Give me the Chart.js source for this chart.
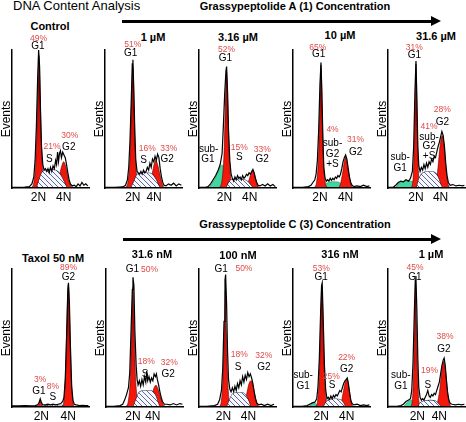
<!DOCTYPE html>
<html>
<head>
<meta charset="utf-8">
<title>DNA Content Analysis</title>
<script src="https://cdn.jsdelivr.net/npm/chart.js@4.4.1/dist/chart.umd.min.js"></script>
<style>
  body { margin: 0; background: #fff; }
  #fig { position: relative; width: 466px; height: 422px; overflow: hidden; font-family: "Liberation Sans", Arial, sans-serif; }
  #fig canvas { position: absolute; }
  .t { position: absolute; white-space: nowrap; transform: translate(-50%, -50%); font-weight: bold; font-size: 11px; }
  .head { position: absolute; white-space: nowrap; }
  .arrow { position: absolute; height: 3px; background: #000; }
  .arrow:after { content: ""; position: absolute; right: -9px; top: -4px; border-left: 10px solid #000; border-top: 5.5px solid transparent; border-bottom: 5.5px solid transparent; }
</style>
</head>
<body>
<div id="fig">
  <div class="head" style="left:13px;top:-2px;font-size:13px">DNA Content Analysis</div>
  <div class="t" style="left:295px;top:6px">Grassypeptolide A (1) Concentration</div>
  <div class="arrow" style="left:122px;top:20px;width:310px"></div>
  <div class="t" style="left:295px;top:224px">Grassypeptolide C (3) Concentration</div>
  <div class="arrow" style="left:123px;top:238px;width:309px"></div>
</div>
<script>
// panels: row 1 = control + grassypeptolide A, row 2 = taxol + grassypeptolide C
const panelTitles = ["Control", "1 \u00b5M", "3.16 \u00b5M", "10 \u00b5M", "31.6 \u00b5M",
                     "Taxol 50 nM", "31.6 nM", "100 nM", "316 nM", "1 \u00b5M"];
const tickLabels = ["2N", "4N"];
const tick2N = [41.3, 43.4, 39.6, 42, 43.6, 45.7, 42, 38, 44, 45.7];
const tick4N = [80.6, 76.5, 79, 82, 82, 87.7, 73, 77, 83.6, 80];

// total DNA histogram (channel, events)
const totalEvents = [
  [[0,0.5],[10,0.5],[20,0.6],[27,1],[31,3],[34,8],[36,20],[38,45],[40,80],[41.5,100],[43,88],[44.5,55],[46,30],[48,17],[50,13],[52,14],[54,12],[56,14],[58,11],[60,15],[62,12],[64,16],[66,14],[68,20],[69.5,17],[71,26],[72.5,19],[74,25],[75.5,27],[77,22],[79,26],[81,24],[83,22],[85,17],[87,11],[89,6],[91,3],[94,1.5],[97,2],[100,1],[103,3],[106,1.5],[109,4],[112,2],[115,3],[118,1.5]],
  [[0,0.5],[15,0.5],[28,0.8],[32,2],[35,6],[37,15],[39,35],[41,65],[42.5,90],[43.5,93],[45,70],[46.5,40],[48,20],[50,12],[52,11],[54,10],[56,12],[58,10],[60,13],[62,11],[64,12],[66,15],[68,13],[70,18],[72,15],[74,21],[76,19],[78,23],[80,20],[82,24.5],[84,22],[86,14],[88,8],[90,4],[92,2],[95,1.5],[99,3],[103,2],[107,3.5],[111,1.5],[115,3],[119,2]],
  [[0,0.5],[10,0.5],[14,1],[18,3],[22,6],[26,9],[30,13],[33,17],[36,25],[38,45],[40,68],[42,85],[43,88],[44.5,70],[46,42],[48,20],[50,10],[52,7],[54,5],[56,8],[58,6],[60,9],[62,7],[64,8],[66,6],[68,9],[70,7],[72,8],[74,10],[76,9],[78,11],[80,10],[82,12],[84,13.5],[86,11],[88,7],[90,4],[92,2],[95,1.5],[99,2.5],[103,1.5],[107,3],[111,1.5],[115,2.5],[119,1]],
  [[0,0.5],[15,0.5],[24,1],[28,2],[31,4],[34,6],[36,10],[38,20],[40,42],[42,75],[43.6,91],[45,70],[46.5,38],[48,15],[50,7],[52,5],[54,6],[56,5],[58,7],[60,5.5],[62,7],[64,6],[66,8],[68,7],[70,9],[72,8],[74,10],[76,14],[78,19],[80,22],[82,24],[84,21],[86,14],[88,8],[90,4],[92,2],[95,1],[100,1.5],[105,1],[110,2],[115,1],[119,1.5]],
  [[0,0.5],[8,0.5],[12,2],[16,4],[20,5],[24,4.5],[28,6],[32,5],[35,7],[38,12],[40,30],[42,70],[43.6,92],[45,65],[46.5,30],[48,16],[50,12],[52,15],[54,13],[56,17],[58,14],[60,18],[62,15],[64,19],[66,17],[68,21],[70,19],[72,23],[74,22],[76,26],[78,30],[80,33],[82,37],[84,41],[86,38],[88,30],[90,18],[92,9],[94,4],[97,2],[101,2.5],[106,1.5],[111,2],[116,1.5],[119,2]],
  [[0,0.8],[10,0.8],[20,1],[30,0.8],[36,1],[40,1.5],[42,3],[44,6],[46,3],[48,1.5],[52,1.5],[56,2],[60,1.5],[64,2],[68,1.5],[72,2],[76,2.5],[79,4],[81,7],[83,20],[85,50],[87,85],[88,90],[89.5,75],[91,45],[93,15],[95,5],[97,2],[100,1.5],[105,1],[110,1.2],[115,1],[119,1]],
  [[0,0.5],[12,0.5],[22,1],[26,2],[29,5],[32,9],[35,14],[37,25],[39,55],[41,85],[42,94],[43.5,88],[45,55],[47,30],[48.5,20],[50,16],[52,19],[54,15],[56,20],[58,16],[60,22],[62,18],[63.5,26],[65,19],[67,22],[69,18],[71,21],[73,19],[75,24],[77,22],[78.5,24],[80,20],[82,16],[84,11],[86,7],[88,4],[91,2],[95,2],[100,1.5],[105,2.5],[110,1.5],[115,2.5],[119,2]],
  [[0,0.5],[12,0.5],[24,1],[29,2],[32,5],[35,12],[37,28],[39,62],[40.5,92],[41.5,96],[43,75],[44.5,40],[46,20],[48,13],[50,11],[52,14],[54,11],[56,15],[58,12],[60,17],[62,14],[64,19],[66,16],[68,22],[70,18],[72,23],[74,20],[76,25],[78,22],[80,24],[82,21],[84,17],[86,11],[88,6],[90,3],[93,1.5],[97,2],[102,1],[107,2],[112,1],[117,2]],
  [[0,0.5],[14,0.5],[22,1],[26,2],[30,3],[34,3.5],[37,6],[39,15],[41,35],[43,68],[44.5,88],[45.5,90],[47,65],[49,30],[51,12],[53,6],[55,7],[57,5.5],[59,8],[61,6],[63,8.5],[65,7],[67,9],[69,8],[71,10],[73,12],[75,11],[77,14],[79,17],[81,19],[83,20],[84.5,21],[86,18],[88,11],[90,5],[92,2.5],[95,1.5],[100,2],[105,1],[110,1.5],[115,1],[119,1.5]],
  [[0,0.5],[14,0.5],[20,1],[24,2],[28,4],[32,5],[35,6],[37,12],[39,32],[41,68],[42.5,92],[43.5,95],[45,70],[46.5,35],[48,14],[50,7],[52,5],[54,6],[56,5],[58,7],[60,9],[62,12],[64,8],[66,7],[68,9],[70,8],[72,10],[74,9],[76,12],[78,15],[80,18],[82,24],[84,30],[86,34],[87.5,35.5],[89,31],[91,20],[93,10],[95,5],[97,2.5],[100,2],[105,1.5],[110,2],[115,1.5],[119,2]]
];

// fitted G1 component
const g1Fit = [
  [[30,0],[34,4],[37,18],[39,45],[40.5,75],[42,96],[43.5,75],[45,45],[47,18],[50,4],[54,0]],
  [[32,0],[36,5],[39,22],[41,55],[43.4,88],[45.5,55],[47.5,22],[50,6],[54,0]],
  [[32,0],[36,6],[39,25],[41,58],[43,84],[45,58],[47,25],[49.5,7],[53,0]],
  [[33,0],[37,5],[40,25],[42,60],[43.6,89],[45.2,60],[47,25],[50,5],[54,0]],
  [[36,0],[39,6],[41,30],[42.5,65],[43.6,90],[44.8,65],[46.2,30],[48,6],[50,0]],
  [[40,0],[42,2],[44,5],[46,2],[48,0]],
  [[31,0],[35,5],[38,22],[40,55],[42,87],[44,55],[46,22],[49,6],[54,0]],
  [[32,0],[35,5],[37.5,22],[39.5,55],[41,84],[42.5,55],[44.5,22],[47,5],[51,0]],
  [[35,0],[38.5,5],[41,22],[43,58],[45,88],[47,58],[49,22],[51.5,5],[54,0]],
  [[35,0],[38,5],[40,25],[41.7,60],[43,90],[44.3,60],[46,25],[48,5],[51,0]]
];

// fitted S-phase component (hatched)
const sFit = [
  [[38,0],[42,6],[46,11],[52,13],[60,13.5],[68,13],[74,11],[79,7],[83,3],[86,0]],
  [[40,0],[45,5],[50,10],[58,11],[66,11],[74,10],[80,6],[84,2],[87,0]],
  [[42,0],[46,4],[52,6.5],[62,6.5],[72,6],[78,4],[82,1.5],[85,0]],
  null,
  [[44,0],[48,7],[54,11],[62,12],[70,12],[76,10],[80,6],[83,2],[86,0]],
  [[48,0],[52,1.2],[60,1.5],[70,1.5],[78,1.5],[82,0]],
  [[42,0],[46,5],[52,11],[60,12],[70,12],[77,9],[81,4],[84,0]],
  [[43,0],[47,5],[52,9.5],[60,10.5],[68,10.5],[74,8],[78,4],[81,0]],
  [[47,0],[51,3.5],[56,5.5],[66,6],[74,5.5],[79,3],[82,0]],
  [[46,0],[50,3],[56,4.5],[66,5],[74,4.5],[79,2.5],[83,0]]
];

// fitted G2 component
const g2Fit = [
  [[68,0],[71,3],[74,9],[77,15],[80.5,19],[84,15],[87,8],[90,3],[94,0]],
  [[67,0],[70,3],[73,9],[76,16],[79,20],[82,17],[86,9],[89,3],[92,0]],
  [[72,0],[76,3],[80,9],[84,12.5],[87,9],[90,3],[94,0]],
  [[71,0],[74,3],[77,10],[80,19],[82,22.5],[84,19],[87,10],[90,3],[93,0]],
  [[72,0],[75,5],[78,15],[81,30],[84.7,38],[87.5,30],[90,15],[93,4],[96,0]],
  [[78,0],[81,5],[83.5,25],[85.5,60],[87.8,89],[90,60],[92,25],[94.5,5],[97,0]],
  [[66,0],[69,3],[72,9],[75,14],[78,15.7],[81,13],[85,7],[89,2],[93,0]],
  [[69,0],[72,4],[75,11],[78,17],[81,19],[84,16],[87,9],[90,3],[93,0]],
  [[72,0],[75,3],[78,10],[81,17],[83.6,20],[86,17],[88.5,10],[91,3],[94,0]],
  [[75,0],[78,5],[81,14],[84,27],[87,33],[89.5,27],[92,14],[95,4],[98,0]]
];

// apoptotic fractions (green)
const subG1Fit = [
  null, null,
  [[15,0],[20,3],[26,8],[31,13],[35,16.5],[38,16],[41,10],[44,3],[46,0]],
  null,
  [[12,0],[16,3],[22,4.5],[30,5],[36,5],[40,4],[43,0]],
  null, null, null,
  [[24,0],[27,1.5],[31,2.5],[35,2.5],[38,1],[40,0]],
  [[24,0],[28,2.5],[33,4.5],[37,5],[40,3],[42,0]]
];
const subG2Fit = [
  null, null, null,
  [[47,0],[50,2.5],[55,4],[65,4.5],[72,4],[76,2],[79,0]],
  null, null, null, null, null, null
];

// phase labels: text, channel, events, is-percentage
const phaseNotes = [
  [["49%",41.4,108.5,1],["G1",40.3,103,0],["21%",62.3,30.3,1],["S",58,20.6,0],["30%",90,38,1],["G2",88.5,29.8,0]],
  [["51%",43.4,103.6,1],["G1",40,97.6,0],["16%",66,28.6,1],["S",60,20,0],["33%",99.5,28.6,1],["G2",97,20.6,0]],
  [["52%",43,100,1],["G1",41,94,0],["sub-",15,28,0],["G1",14,21,0],["15%",62.7,29,1],["S",62.7,22,0],["33%",98.5,28,1],["G2",98.5,20.7,0]],
  [["65%",38.5,102,1],["G1",40,97,0],["4%",61.6,42,1],["sub-",61.6,32.7,0],["G2",61.6,24.6,0],["+S",61.6,17,0],["31%",97.5,35,1],["G2",97.5,26,0]],
  [["31%",41,102,1],["G1",41,96.5,0],["28%",84.7,56.5,1],["G2",84.7,48,0],["41%",64,44.5,1],["sub-",64,37,0],["G2",64,30,0],["+S",64,22.7,0],["sub-",19,22,0],["G1",19,14,0]],
  [["3%",44,20,1],["G1",42,11.6,0],["8%",63.6,15,1],["S",63.6,6.8,0],["89%",88,101,1],["G2",88,94,0]],
  [["G1",41,99.6,0],["50%",67.7,99.6,1],["18%",62.7,32.6,1],["S",61,24,0],["32%",98.5,32,1],["G2",97,24,0]],
  [["G1",34.5,100,0],["50%",70,100,1],["18%",62.7,38,1],["S",61,29,0],["32%",101,37,1],["G2",101,29,0]],
  [["53%",44,100,1],["G1",44,94,0],["sub-",15.9,23,0],["G1",15.9,15,0],["25%",59.5,21.7,1],["S",61,15.5,0],["22%",83.6,35.5,1],["G2",83.6,27.3,0]],
  [["45%",42,101,1],["G1",42,94,0],["sub-",20,23,0],["G1",20,15,0],["19%",64.7,26.6,1],["S",62,16,0],["38%",89,50.7,1],["G2",87,42,0]]
];

// page layout (pixels): axis origin x, axis top y, title centre
const axisLeft = [12, 105, 199, 293, 388, 12, 106, 199, 293, 388];
const axisTop = [50, 50, 50, 50, 50, 269, 269, 269, 269, 269];
const titlePos = [[50,26],[153,37],[238,37],[340,35],[436,36],[53,258],[152,254],[238,255],[340,254],[431,254]];

const FONT = '"Liberation Sans", Arial, sans-serif';
const PCT = '#e04a48';
const fig = document.getElementById('fig');

function hatch() {
  const c = document.createElement('canvas');
  c.width = c.height = 5;
  const g = c.getContext('2d');
  g.fillStyle = '#f7f7fc';
  g.fillRect(0, 0, 5, 5);
  g.strokeStyle = '#5968a6';
  g.lineWidth = 1;
  g.beginPath();
  g.moveTo(-1, -1); g.lineTo(6, 6);
  g.moveTo(-1, 4); g.lineTo(1, 6);
  g.moveTo(4, -1); g.lineTo(6, 1);
  g.stroke();
  return g.createPattern(c, 'repeat');
}
const hatchFill = hatch();

function redFill(context) {
  const a = context.chart.chartArea;
  if (!a) return '#ee1208';
  const g = context.chart.ctx.createLinearGradient(0, a.top, 0, a.bottom);
  g.addColorStop(0, '#5c0202');
  g.addColorStop(0.4, '#c40a06');
  g.addColorStop(0.7, '#ee1208');
  g.addColorStop(1, '#f41a0c');
  return g;
}

const toXY = arr => arr.map(([x, y]) => ({ x, y }));

panelTitles.forEach((name, p) => {
  const t = document.createElement('div');
  t.className = 't';
  t.style.left = titlePos[p][0] + 'px';
  t.style.top = titlePos[p][1] + 'px';
  t.textContent = name;
  fig.appendChild(t);

  const cv = document.createElement('canvas');
  cv.width = 101; cv.height = 200;
  cv.style.left = (axisLeft[p] - 16) + 'px';
  cv.style.top = (axisTop[p] - 40) + 'px';
  fig.appendChild(cv);

  const comp = { pointRadius: 0, clip: false, fill: 'origin', cubicInterpolationMode: 'monotone' };
  const datasets = [
    { data: toXY(totalEvents[p]), borderColor: '#000', borderWidth: 1.2, fill: false, tension: 0, pointRadius: 0, clip: false }
  ];
  if (sFit[p]) datasets.push(Object.assign({ data: toXY(sFit[p]), backgroundColor: hatchFill, borderColor: '#2e3766', borderWidth: 0.6, blend: true }, comp));
  datasets.push(Object.assign({ data: toXY(g1Fit[p]), backgroundColor: redFill, borderColor: '#5a0000', borderWidth: 0.6 }, comp));
  datasets.push(Object.assign({ data: toXY(g2Fit[p]), backgroundColor: redFill, borderColor: '#5a0000', borderWidth: 0.6 }, comp));
  if (subG1Fit[p]) datasets.push(Object.assign({ data: toXY(subG1Fit[p]), backgroundColor: '#3fd6a0', borderColor: '#1c7a58', borderWidth: 0.5 }, comp));
  if (subG2Fit[p]) datasets.push(Object.assign({ data: toXY(subG2Fit[p]), backgroundColor: '#3fd6a0', borderColor: '#1c7a58', borderWidth: 0.5 }, comp));

  new Chart(cv, {
    type: 'line',
    data: { datasets },
    options: {
      responsive: false,
      animation: false,
      devicePixelRatio: 1,
      layout: { padding: { top: 40, right: 8, left: 0, bottom: 0 } },
      plugins: { legend: { display: false }, tooltip: { enabled: false } },
      scales: {
        x: {
          type: 'linear', min: 0, max: 120,
          grid: { display: false, drawTicks: false },
          border: { color: '#000', width: 1.5, z: 1 },
          afterBuildTicks: s => { s.ticks = [{ value: tick2N[p] }, { value: tick4N[p] }]; },
          afterFit: s => { s.height = 22; },
          ticks: { autoSkip: false, maxRotation: 0, padding: 2, color: '#000',
                   font: { family: FONT, size: 12 }, callback: (v, i) => tickLabels[i] }
        },
        y: {
          min: 0, max: 100,
          grid: { display: false, drawTicks: false },
          border: { color: '#000', width: 1.5, z: 1 },
          ticks: { display: false },
          afterFit: s => { s.width = 16; },
          title: { display: true, text: 'Events', color: '#000',
                   font: { family: FONT, size: 12 }, padding: { top: 3, bottom: 0 } }
        }
      }
    },
    plugins: [{
      id: 'blend',
      beforeDatasetDraw(chart, args) {
        if (chart.data.datasets[args.index].blend) {
          chart.ctx.save();
          chart.ctx.globalCompositeOperation = 'multiply';
        }
      },
      afterDatasetDraw(chart, args) {
        if (chart.data.datasets[args.index].blend) chart.ctx.restore();
      }
    }, {
      id: 'notes',
      afterDatasetsDraw(chart) {
        const { ctx, scales: { x, y } } = chart;
        ctx.save();
        ctx.textAlign = 'center';
        ctx.textBaseline = 'middle';
        phaseNotes[p].forEach(([txt, vx, vy, pct]) => {
          ctx.fillStyle = pct ? PCT : '#000';
          ctx.font = (pct ? '8.5px ' : '10px ') + FONT;
          ctx.fillText(txt, x.getPixelForValue(vx), y.getPixelForValue(vy));
        });
        ctx.restore();
      }
    }]
  });
});
</script>
</body>
</html>
